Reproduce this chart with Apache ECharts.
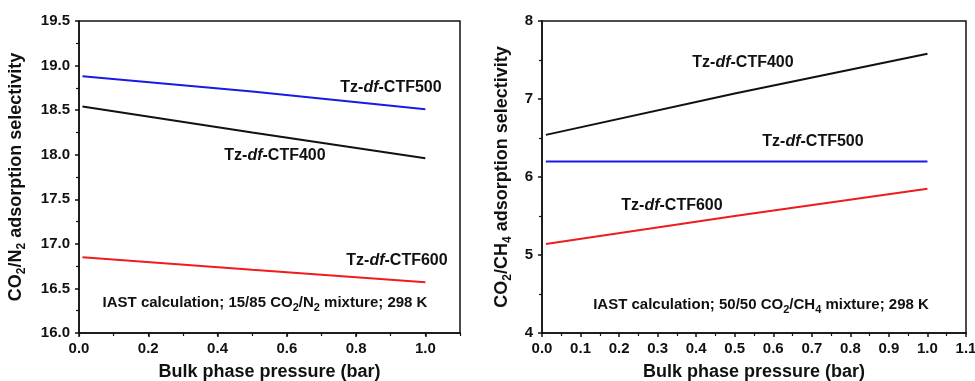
<!DOCTYPE html>
<html lang="en">
<head>
<meta charset="UTF-8">
<title>IAST selectivity</title>
<script src="https://cdn.jsdelivr.net/npm/echarts@6/dist/echarts.min.js"></script>
<style>
  html, body { margin: 0; padding: 0; background: #fff; }
  #main { width: 975px; height: 381px; }
</style>
</head>
<body>
<div id="main"></div>
<script>
  // pressure points (bar)
  var pressure = [0.01, 0.5, 1.0];
  // CO2/N2 selectivity
  var n2_ctf500 = [18.88, 18.71, 18.51];
  var n2_ctf400 = [18.54, 18.25, 17.96];
  var n2_ctf600 = [16.85, 16.71, 16.57];
  // CO2/CH4 selectivity
  var ch4_ctf400 = [6.54, 7.07, 7.58];
  var ch4_ctf500 = [6.20, 6.20, 6.20];
  var ch4_ctf600 = [5.14, 5.50, 5.85];

  var FONT = 'Liberation Sans, Arial, sans-serif';
  var BLUE = '#1a1ae6', RED = '#ee1c1c', BLACK = '#111';

  function pairs(xs, ys) {
    return xs.map(function (x, i) { return [x, ys[i]]; });
  }

  var sub = { fontSize: 11, fontWeight: 'bold', fontFamily: FONT, color: '#111', padding: [10, 0, 0, 0] };
  var ital = { fontSize: 16, fontWeight: 'bold', fontStyle: 'italic', fontFamily: FONT, color: '#111' };
  var norm = { fontSize: 16, fontWeight: 'bold', fontFamily: FONT, color: '#111' };

  function baseX(grid, interval, showMax) {
    return {
      type: 'value', gridIndex: grid, position: 'bottom', min: 0, max: 1.1, interval: interval,
      splitLine: { show: false },
      axisLine: { lineStyle: { color: '#111', width: 1.5 } },
      axisTick: { length: 4, lineStyle: { color: '#111', width: 1.5 } },
      axisLabel: { margin: 8, showMaxLabel: showMax, color: '#111', fontSize: 15, fontWeight: 'bold', fontFamily: FONT,
        formatter: function (v) { return v.toFixed(1); } },
      name: 'Bulk phase pressure (bar)', nameLocation: 'middle', nameGap: 30,
      nameTextStyle: { fontSize: 18, fontWeight: 'bold', fontFamily: FONT, color: '#111' }
    };
  }

  function baseY(grid, min, max, interval, gap, nameText, fmt) {
    return {
      type: 'value', gridIndex: grid, min: min, max: max, interval: interval,
      splitLine: { show: false },
      axisLine: { lineStyle: { color: '#111', width: 1.5 } },
      axisTick: { length: 4, lineStyle: { color: '#111', width: 1.5 } },
      minorTick: { show: true, splitNumber: 2, length: 3, lineStyle: { color: '#111', width: 1.2 } },
      axisLabel: { margin: 9, color: '#111', fontSize: 15, fontWeight: 'bold', fontFamily: FONT, formatter: fmt },
      name: nameText, nameLocation: 'middle', nameGap: gap,
      nameTextStyle: { fontSize: 18, fontWeight: 'bold', fontFamily: FONT, color: '#111',
        rich: { n: { fontSize: 18, fontWeight: 'bold', fontFamily: FONT, color: '#111' },
                s: { fontSize: 12, fontWeight: 'bold', fontFamily: FONT, color: '#111', padding: [11, 0, 0, 0] } } }
    };
  }

  // left grid minor x ticks on a second axis so there is no tick between 1.0 and 1.1
  var leftMinor = {
    type: 'value', gridIndex: 0, position: 'bottom', min: 0, max: 1.1, interval: 0.1,
    splitLine: { show: false }, axisLine: { show: false }, axisLabel: { show: false },
    axisTick: { length: 3, lineStyle: { color: '#111', width: 1.2 } }
  };

  var rightX = baseX(1, 0.1, true);
  rightX.minorTick = { show: true, splitNumber: 2, length: 3, lineStyle: { color: '#111', width: 1.2 } };

  function line(xi, yi, ys, color) {
    return { type: 'line', xAxisIndex: xi, yAxisIndex: yi, data: pairs(pressure, ys),
      showSymbol: false, symbol: 'none', lineStyle: { color: color, width: 2 }, itemStyle: { color: color },
      silent: true, animation: false };
  }

  function label(x, y, num) {
    return { type: 'text', x: x, y: y, silent: true,
      style: { text: '{n|Tz-}{i|df}{n|-CTF' + num + '}', rich: { n: norm, i: ital },
        align: 'center', verticalAlign: 'middle', fill: '#111' } };
  }

  function note(x, y, txt) {
    return { type: 'text', x: x, y: y, silent: true,
      style: { text: txt, rich: { n: { fontSize: 15, fontWeight: 'bold', fontFamily: FONT, color: '#111' }, s: sub },
        align: 'center', verticalAlign: 'middle', fill: '#111' } };
  }

  var option = {
    animation: false,
    backgroundColor: '#fff',
    grid: [
      { left: 79, top: 21, width: 381, height: 312, show: true, borderColor: '#111', borderWidth: 1.5, outerBoundsMode: 'none' },
      { left: 542, top: 21, width: 424, height: 312, show: true, borderColor: '#111', borderWidth: 1.5, outerBoundsMode: 'none' }
    ],
    xAxis: [baseX(0, 0.2, false), rightX, leftMinor],
    yAxis: [
      baseY(0, 16, 19.5, 0.5, 51, '{n|CO}{s|2}{n|/N}{s|2}{n| adsorption selectivity}', function (v) { return v.toFixed(1); }),
      baseY(1, 4, 8, 1, 28, '{n|CO}{s|2}{n|/CH}{s|4}{n| adsorption selectivity}', function (v) { return v.toFixed(0); })
    ],
    series: [
      line(0, 0, n2_ctf500, BLUE),
      line(0, 0, n2_ctf400, BLACK),
      line(0, 0, n2_ctf600, RED),
      line(1, 1, ch4_ctf400, BLACK),
      line(1, 1, ch4_ctf500, BLUE),
      line(1, 1, ch4_ctf600, RED)
    ],
    graphic: [
      label(391, 88, 500),
      label(275, 156, 400),
      label(397, 261, 600),
      note(265, 303, '{n|IAST calculation; 15/85 CO}{s|2}{n|/N}{s|2}{n| mixture; 298 K}'),
      label(743, 63, 400),
      label(813, 142, 500),
      label(672, 206, 600),
      note(761, 305, '{n|IAST calculation; 50/50 CO}{s|2}{n|/CH}{s|4}{n| mixture; 298 K}')
    ]
  };

  echarts.init(document.getElementById('main')).setOption(option);
</script>
</body>
</html>
